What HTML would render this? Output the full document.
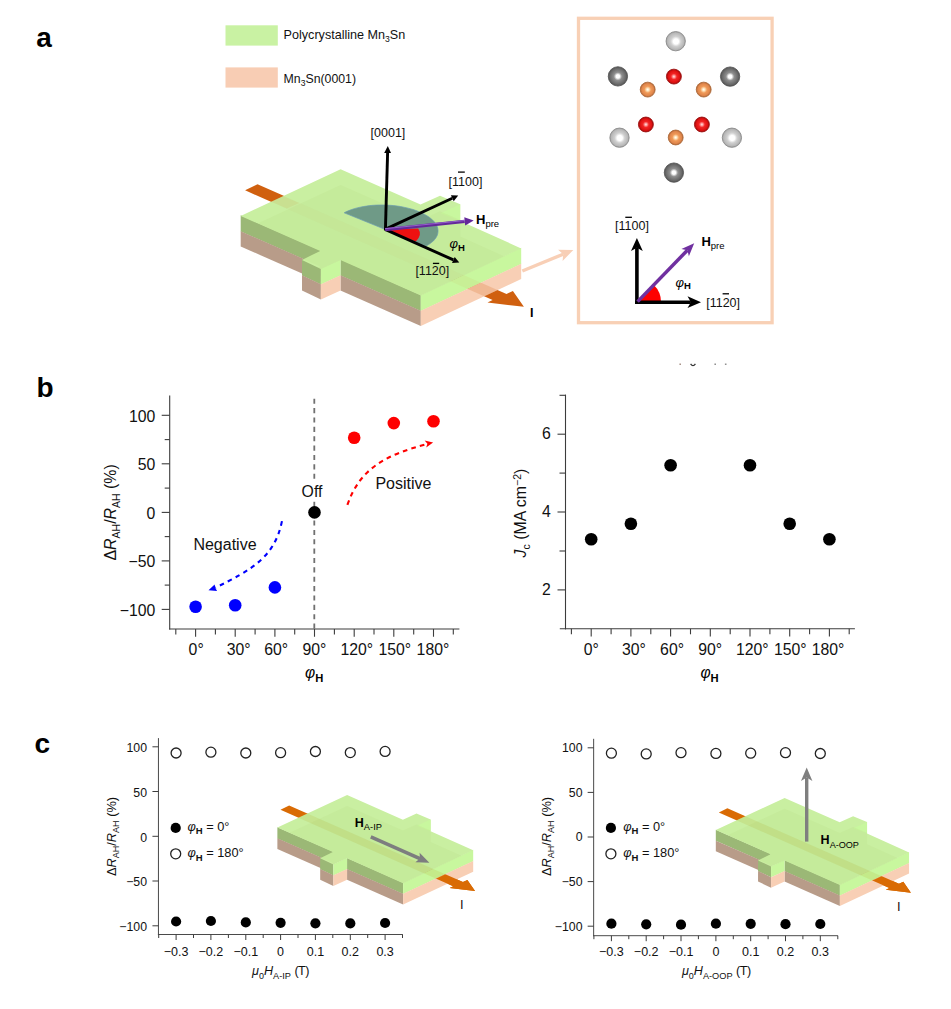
<!DOCTYPE html>
<html><head><meta charset="utf-8"><title>Figure</title>
<style>html,body{margin:0;padding:0;background:#fff;}body{width:951px;height:1009px;overflow:hidden;font-family:"Liberation Sans",sans-serif;}</style>
</head><body>
<svg width="951" height="1009" viewBox="0 0 951 1009" style="display:block;font-family:'Liberation Sans',sans-serif">
<defs>
<radialGradient id="gLG" cx="0.5" cy="0.5" r="0.5" fx="0.52" fy="0.52">
 <stop offset="0" stop-color="#ffffff"/><stop offset="0.27" stop-color="#ffffff"/><stop offset="0.52" stop-color="#d0d0d0"/><stop offset="0.85" stop-color="#b8b8b8"/><stop offset="1" stop-color="#a0a0a0"/>
</radialGradient>
<radialGradient id="gDG" cx="0.5" cy="0.5" r="0.5" fx="0.5" fy="0.5">
 <stop offset="0" stop-color="#ffffff"/><stop offset="0.18" stop-color="#ffffff"/><stop offset="0.42" stop-color="#8f8f8f"/><stop offset="0.85" stop-color="#666666"/><stop offset="1" stop-color="#4f4f4f"/>
</radialGradient>
<radialGradient id="gR" cx="0.5" cy="0.5" r="0.5">
 <stop offset="0" stop-color="#ffe4e4"/><stop offset="0.12" stop-color="#ffb0b0"/><stop offset="0.4" stop-color="#f22424"/><stop offset="0.8" stop-color="#dc1010"/><stop offset="1" stop-color="#900808"/>
</radialGradient>
<radialGradient id="gO" cx="0.5" cy="0.5" r="0.5">
 <stop offset="0" stop-color="#ffffff"/><stop offset="0.15" stop-color="#ffecc8"/><stop offset="0.45" stop-color="#f09a58"/><stop offset="0.8" stop-color="#e0864c"/><stop offset="1" stop-color="#a86030"/>
</radialGradient>
<linearGradient id="gP" x1="0" y1="0" x2="0" y2="1">
 <stop offset="0" stop-color="#9a5fd0"/><stop offset="0.45" stop-color="#7a3cb0"/><stop offset="1" stop-color="#4a1878"/>
</linearGradient>

<clipPath id="cTop"><polygon points="240.7,215.9 340.6,169.3 420.5,204.6 440.0,195.7 460.2,204.3 460.2,221.0 521.2,248.4 420.8,295.5 340.5,259.9 320.9,268.9 302.0,259.9 320.3,250.9"/></clipPath>
<clipPath id="cBP"><polygon points="420.8,311.1 521.2,264.0 521.2,279.0 420.8,326.1"/></clipPath>
<clipPath id="cLow"><polygon points="420.8,311.1 521.2,264.0 581.2,264.0 581.2,395.5 420.8,395.5"/></clipPath>
<clipPath id="cBG"><polygon points="420.8,295.5 521.2,248.4 521.2,264.0 420.8,311.1"/></clipPath>
</defs>
<rect width="951" height="1009" fill="#ffffff"/>
<text x="36.2" y="46.8" font-size="28" font-weight="bold" fill="#000">a</text>
<text x="36.6" y="396.8" font-size="28" font-weight="bold" fill="#000">b</text>
<text x="34.4" y="752.6" font-size="28" font-weight="bold" fill="#000">c</text>
<rect x="225.5" y="25.3" width="52.3" height="20.3" fill="#c9f2a3"/>
<rect x="225.5" y="67.4" width="52.3" height="20.2" fill="#f8cdb4"/>
<text x="283.6" y="38.9" font-size="12.6" fill="#111">Polycrystalline Mn<tspan font-size="8.6" dy="3">3</tspan><tspan dy="-3">Sn</tspan></text>
<text x="283.6" y="82.9" font-size="12.3" fill="#111">Mn<tspan font-size="8.6" dy="3">3</tspan><tspan dy="-3">Sn(0001)</tspan></text>
<g><polygon points="245.1,190.3 257.5,184.2 506.5,293.9 512.9,291.0 523.9,306.8 487.5,302.6 492.6,300.0" fill="#d0600f"/><polygon points="240.7,215.3 320.3,250.3 320.3,266.5 240.7,231.5" fill="#9bb876"/><polygon points="240.7,231.2 320.3,266.2 320.3,281.5 240.7,246.5" fill="#b89c89"/><polygon points="340.5,259.3 420.8,294.9 420.8,311.1 340.5,275.5" fill="#9bb876"/><polygon points="340.5,275.2 420.8,310.8 420.8,326.1 340.5,290.5" fill="#b89c89"/><polygon points="302.0,259.3 320.9,268.3 320.9,284.5 302.0,275.5" fill="#9bb876"/><polygon points="302.0,275.2 320.9,284.2 320.9,299.5 302.0,290.5" fill="#b89c89"/><polygon points="320.9,268.3 340.5,259.3 340.5,275.5 320.9,284.5" fill="#c8f79e"/><polygon points="320.9,284.2 340.5,275.2 340.5,290.5 320.9,299.5" fill="#f8cfb5"/><polygon points="420.8,294.9 521.2,247.8 521.2,264.0 420.8,311.1" fill="#c8f79e"/><polygon points="420.8,310.8 521.2,263.7 521.2,279.0 420.8,326.1" fill="#f8cfb5"/><polygon points="240.7,215.9 340.6,169.3 420.5,204.6 440.0,195.7 460.2,204.3 460.2,221.0 521.2,248.4 420.8,295.5 340.5,259.9 320.9,268.9 302.0,259.9 320.3,250.9" fill="#c9efa1"/><polygon points="440.6,213.2 460.2,204.3 460.2,221.0" fill="#c8f79e"/><g clip-path="url(#cTop)"><polygon points="240.7,231.5 340.6,184.9 420.5,220.2 440.0,211.3 460.2,219.9 460.2,236.6 521.2,264.0 420.8,311.1 340.5,275.5 320.9,284.5 302.0,275.5 320.3,266.5" fill="#b8d880" opacity="0.18"/><polygon points="245.1,190.3 257.5,184.2 506.5,293.9 492.6,300.0" fill="#d0600f" opacity="0.025"/><polygon points="271.0,201.4 283.0,196.0 299.1,202.9 286.8,208.6" fill="#d0600f" opacity="0.08"/></g><g clip-path="url(#cBP)"><polygon points="245.1,190.3 257.5,184.2 506.5,293.9 492.6,300.0" fill="#d0600f" opacity="0.2"/></g><g clip-path="url(#cBG)"><polygon points="245.1,190.3 257.5,184.2 506.5,293.9 492.6,300.0" fill="#d0600f" opacity="0.05"/></g></g>
<polygon points="426.1,246.1 428.2,244.8 430.1,243.6 431.8,242.2 433.4,240.9 434.7,239.4 435.8,238.0 436.7,236.4 437.4,234.9 437.8,233.3 438.0,231.7 438.0,230.2 437.8,228.6 437.4,227.0 436.7,225.4 435.8,223.8 434.7,222.3 433.3,220.8 431.8,219.3 430.1,217.9 428.2,216.5 426.0,215.2 423.8,213.9 421.3,212.7 418.7,211.6 415.9,210.5 413.1,209.5 410.1,208.7 407.0,207.9 403.8,207.2 400.5,206.5 397.1,206.0 393.7,205.6 390.3,205.3 386.8,205.1 383.4,205.0 379.9,205.0 376.5,205.1 373.1,205.3 369.7,205.6 366.4,206.1 363.2,206.6 360.1,207.2 357.1,207.9 354.2,208.7 351.5,209.6 348.9,210.6 346.4,211.6 344.2,212.8" fill="#6f9a87" stroke="#6c9cb0" stroke-width="0.7"/>
<path d="M385.1 229.4 L415.8 241.6 Q422.6 235.0 418.2 228.6 Z" fill="#ee1111"/>
<line x1="385.4" y1="230.4" x2="387.6" y2="153.0" stroke="#000" stroke-width="2.9"/><polygon points="387.8,146.0 391.0,153.1 387.6,153.0 384.2,152.9" fill="#000"/>
<line x1="385.1" y1="229.4" x2="452.3" y2="198.3" stroke="#000" stroke-width="2.9"/><polygon points="458.2,195.6 453.7,201.3 452.3,198.3 450.9,195.3" fill="#000"/>
<line x1="385.1" y1="229.4" x2="453.4" y2="259.9" stroke="#000" stroke-width="2.9"/><polygon points="459.3,262.6 452.0,263.0 453.4,259.9 454.7,256.9" fill="#000"/>
<line x1="385.1" y1="229.6" x2="464.7" y2="221.3" stroke="#64289a" stroke-width="3.3"/><polygon points="473.7,220.4 465.2,225.4 464.7,221.3 464.3,217.3" fill="#64289a"/>
<line x1="385.1" y1="228.70000000000002" x2="465.0" y2="220.5" stroke="#9460cc" stroke-width="1.0"/>
<text x="370.6" y="136.5" font-size="12.5" fill="#111">[0001]</text>
<text x="448.6" y="186.2" font-size="12.5" fill="#111">[1100]</text>
<line x1="458.0" y1="172.1" x2="464.8" y2="172.1" stroke="#000" stroke-width="1.3"/>
<text x="415.4" y="275.2" font-size="12.5" fill="#111">[1120]</text>
<line x1="432.9" y1="263.4" x2="439.2" y2="263.4" stroke="#000" stroke-width="1.3"/>
<text x="476.0" y="223.9" font-size="13" font-weight="bold" fill="#000">H<tspan font-size="9.5" font-weight="normal" dy="3.2">pre</tspan></text>
<text x="449.5" y="248.2" font-size="13" font-style="italic" fill="#000">φ<tspan font-size="9.5" font-style="normal" font-weight="bold" dy="2.5">H</tspan></text>
<text x="530.0" y="316.8" font-size="12.5" font-weight="bold" fill="#000">I</text>
<line x1="522.3" y1="271.0" x2="563.2" y2="254.2" stroke="#f8cfb6" stroke-width="3.4"/><polygon points="573.3,250.0 562.6,260.9 563.2,254.2 558.1,249.8" fill="#f8cfb6"/>
<rect x="578.5" y="18.3" width="193.6" height="304.4" fill="none" stroke="#f8d0b5" stroke-width="3.3"/>
<circle cx="675.7" cy="41.2" r="9.65" fill="url(#gLG)" stroke="#8a8a8a" stroke-width="0.9"/>
<circle cx="617.9" cy="76.4" r="9.65" fill="url(#gDG)" stroke="#585858" stroke-width="0.9"/>
<circle cx="730.1" cy="76.6" r="9.65" fill="url(#gDG)" stroke="#585858" stroke-width="0.9"/>
<circle cx="673.9" cy="76.6" r="7.45" fill="url(#gR)" stroke="#a01010" stroke-width="0.9"/>
<circle cx="647.7" cy="89.6" r="7.45" fill="url(#gO)" stroke="#b06c3c" stroke-width="0.9"/>
<circle cx="703.7" cy="89.6" r="7.45" fill="url(#gO)" stroke="#b06c3c" stroke-width="0.9"/>
<circle cx="645.9" cy="124.5" r="7.45" fill="url(#gR)" stroke="#a01010" stroke-width="0.9"/>
<circle cx="701.9" cy="124.5" r="7.45" fill="url(#gR)" stroke="#a01010" stroke-width="0.9"/>
<circle cx="675.7" cy="137.5" r="7.45" fill="url(#gO)" stroke="#b06c3c" stroke-width="0.9"/>
<circle cx="619.5" cy="137.7" r="9.65" fill="url(#gLG)" stroke="#8a8a8a" stroke-width="0.9"/>
<circle cx="731.9" cy="137.7" r="9.65" fill="url(#gLG)" stroke="#8a8a8a" stroke-width="0.9"/>
<circle cx="673.9" cy="172.6" r="9.65" fill="url(#gDG)" stroke="#585858" stroke-width="0.9"/>
<path d="M637.3 302 L661 302 A23.7 23.7 0 0 0 653.9 285.1 Z" fill="#fe0000"/>
<line x1="636.9" y1="304.0" x2="636.9" y2="247.7" stroke="#000" stroke-width="3.6"/><polygon points="636.9,237.9 642.8,250.9 636.9,247.7 631.0,250.9" fill="#000"/>
<line x1="635.1" y1="302.2" x2="690.9" y2="302.2" stroke="#000" stroke-width="3.6"/><polygon points="701.0,302.2 687.5,308.1 690.9,302.2 687.5,296.3" fill="#000"/>
<line x1="637.6" y1="301.6" x2="687.4" y2="250.2" stroke="#7030a0" stroke-width="3.5"/><polygon points="694.2,243.2 688.9,256.2 687.4,250.2 681.4,248.9" fill="#7030a0"/>
<text x="615.1" y="230.1" font-size="12.5" fill="#111">[1100]</text>
<line x1="625.3" y1="217.3" x2="631.9" y2="217.3" stroke="#000" stroke-width="1.3"/>
<text x="706.2" y="307.2" font-size="12.5" fill="#111">[1120]</text>
<line x1="722.6" y1="293.8" x2="729.0" y2="293.8" stroke="#000" stroke-width="1.3"/>
<text x="701.4" y="246.0" font-size="13" font-weight="bold" fill="#000">H<tspan font-size="9.5" font-weight="normal" dy="3.2">pre</tspan></text>
<text x="675.4" y="286.6" font-size="13" font-style="italic" fill="#000">φ<tspan font-size="9.5" font-style="normal" font-weight="bold" dy="2.5">H</tspan></text>
<rect x="679.4" y="363.6" width="1.6" height="1.2" fill="#7a5a4a" opacity="0.8"/>
<path d="M690.6 363.8 Q693 367.4 695.4 363.8" fill="none" stroke="#333" stroke-width="1.3"/>
<rect x="714.4" y="363.6" width="1.6" height="1.2" fill="#555" opacity="0.8"/>
<rect x="724.9" y="363.6" width="1.6" height="1.2" fill="#555" opacity="0.8"/>
<line x1="169.7" y1="395.6" x2="169.7" y2="629.5500000000001" stroke="#3c3c3c" stroke-width="1.1"/>
<line x1="169.1" y1="628.95" x2="459.4" y2="628.95" stroke="#3c3c3c" stroke-width="1.1"/>
<line x1="161.7" y1="415.3" x2="169.7" y2="415.3" stroke="#3c3c3c" stroke-width="1.1"/>
<text x="155.4" y="421.5" font-size="15.8" text-anchor="end" fill="#111">100</text>
<line x1="161.7" y1="463.8" x2="169.7" y2="463.8" stroke="#3c3c3c" stroke-width="1.1"/>
<text x="155.4" y="470.0" font-size="15.8" text-anchor="end" fill="#111">50</text>
<line x1="161.7" y1="512.4" x2="169.7" y2="512.4" stroke="#3c3c3c" stroke-width="1.1"/>
<text x="155.4" y="518.5" font-size="15.8" text-anchor="end" fill="#111">0</text>
<line x1="161.7" y1="560.9" x2="169.7" y2="560.9" stroke="#3c3c3c" stroke-width="1.1"/>
<text x="155.4" y="567.0" font-size="15.8" text-anchor="end" fill="#111">−50</text>
<line x1="161.7" y1="609.4" x2="169.7" y2="609.4" stroke="#3c3c3c" stroke-width="1.1"/>
<text x="155.4" y="615.5" font-size="15.8" text-anchor="end" fill="#111">−100</text>
<line x1="164.7" y1="439.6" x2="169.7" y2="439.6" stroke="#3c3c3c" stroke-width="1.1"/>
<line x1="164.7" y1="488.1" x2="169.7" y2="488.1" stroke="#3c3c3c" stroke-width="1.1"/>
<line x1="164.7" y1="536.6" x2="169.7" y2="536.6" stroke="#3c3c3c" stroke-width="1.1"/>
<line x1="164.7" y1="585.1" x2="169.7" y2="585.1" stroke="#3c3c3c" stroke-width="1.1"/>
<line x1="175.8" y1="628.95" x2="175.8" y2="634.45" stroke="#3c3c3c" stroke-width="1.1"/>
<line x1="195.6" y1="628.95" x2="195.6" y2="636.75" stroke="#3c3c3c" stroke-width="1.1"/>
<line x1="215.4" y1="628.95" x2="215.4" y2="634.45" stroke="#3c3c3c" stroke-width="1.1"/>
<line x1="235.2" y1="628.95" x2="235.2" y2="636.75" stroke="#3c3c3c" stroke-width="1.1"/>
<line x1="255.1" y1="628.95" x2="255.1" y2="634.45" stroke="#3c3c3c" stroke-width="1.1"/>
<line x1="274.9" y1="628.95" x2="274.9" y2="636.75" stroke="#3c3c3c" stroke-width="1.1"/>
<line x1="294.7" y1="628.95" x2="294.7" y2="634.45" stroke="#3c3c3c" stroke-width="1.1"/>
<line x1="314.5" y1="628.95" x2="314.5" y2="636.75" stroke="#3c3c3c" stroke-width="1.1"/>
<line x1="334.4" y1="628.95" x2="334.4" y2="634.45" stroke="#3c3c3c" stroke-width="1.1"/>
<line x1="354.2" y1="628.95" x2="354.2" y2="636.75" stroke="#3c3c3c" stroke-width="1.1"/>
<line x1="374.0" y1="628.95" x2="374.0" y2="634.45" stroke="#3c3c3c" stroke-width="1.1"/>
<line x1="393.8" y1="628.95" x2="393.8" y2="636.75" stroke="#3c3c3c" stroke-width="1.1"/>
<line x1="413.7" y1="628.95" x2="413.7" y2="634.45" stroke="#3c3c3c" stroke-width="1.1"/>
<line x1="433.5" y1="628.95" x2="433.5" y2="636.75" stroke="#3c3c3c" stroke-width="1.1"/>
<line x1="453.3" y1="628.95" x2="453.3" y2="634.45" stroke="#3c3c3c" stroke-width="1.1"/>
<text x="188.6" y="655.3" font-size="15.8" fill="#111">0°</text>
<text x="226.7" y="655.3" font-size="15.8" fill="#111">30°</text>
<text x="264.3" y="655.3" font-size="15.8" fill="#111">60°</text>
<text x="302.4" y="655.3" font-size="15.8" fill="#111">90°</text>
<text x="340.5" y="655.3" font-size="15.8" fill="#111">120°</text>
<text x="378.4" y="655.3" font-size="15.8" fill="#111">150°</text>
<text x="416.6" y="655.3" font-size="15.8" fill="#111">180°</text>
<line x1="314.3" y1="398.7" x2="314.3" y2="628.95" stroke="#707070" stroke-width="1.8" stroke-dasharray="5.1 4.27"/>
<rect x="299" y="480.5" width="28" height="20.6" fill="#fff"/>
<circle cx="195.6" cy="606.8" r="6.3" fill="#0000fe"/>
<circle cx="235.2" cy="605.2" r="6.3" fill="#0000fe"/>
<circle cx="274.9" cy="587.4" r="6.3" fill="#0000fe"/>
<circle cx="314.5" cy="512.4" r="6.3" fill="#000"/>
<circle cx="354.2" cy="437.8" r="6.3" fill="#fe0000"/>
<circle cx="393.8" cy="423.1" r="6.3" fill="#fe0000"/>
<circle cx="433.5" cy="421.3" r="6.3" fill="#fe0000"/>
<text x="301.6" y="497.4" font-size="15.8" fill="#111">Off</text>
<text x="375.4" y="488.5" font-size="16" fill="#111">Positive</text>
<text x="193.4" y="550.0" font-size="16" fill="#111">Negative</text>
<path d="M347.4 504.9 C360.5 466.8 387.9 454.6 427.8 443.7" fill="none" stroke="#fe0000" stroke-width="2.1" stroke-dasharray="4.7 4.2"/>
<polygon points="433.1,442.4 426.2,447.5 427.4,443.7 424.6,440.4" fill="#fe0000"/>
<path d="M281.95 521.15 C274.7 557.5 251.1 569.9 215.5 587.7" fill="none" stroke="#0000fe" stroke-width="2.1" stroke-dasharray="4.5 4.4"/>
<polygon points="208.5,590.2 214.6,584.4 215.4,587.9 217.1,590.9" fill="#0000fe"/>
<text transform="translate(116.3,512.4) rotate(-90)" text-anchor="middle" font-size="15.9" fill="#111">Δ<tspan font-style="italic">R</tspan><tspan font-size="10.5" dy="3.5">AH</tspan><tspan dy="-3.5">/</tspan><tspan font-style="italic">R</tspan><tspan font-size="10.5" dy="3.5">AH</tspan><tspan dy="-3.5"> (%)</tspan></text>
<text x="305.0" y="677.5" font-size="15.6" font-style="italic" fill="#000">φ<tspan font-size="11.2" font-style="normal" font-weight="bold" dy="4.2">H</tspan></text>
<line x1="565.5" y1="394.59999999999997" x2="565.5" y2="629.4" stroke="#3c3c3c" stroke-width="1.1"/>
<line x1="559.8" y1="628.8" x2="854.9" y2="628.8" stroke="#3c3c3c" stroke-width="1.1"/>
<line x1="557.5" y1="589.9" x2="565.5" y2="589.9" stroke="#3c3c3c" stroke-width="1.1"/>
<text x="550.8" y="595.1" font-size="15.8" text-anchor="end" fill="#111">2</text>
<line x1="557.5" y1="512.0" x2="565.5" y2="512.0" stroke="#3c3c3c" stroke-width="1.1"/>
<text x="550.8" y="517.2" font-size="15.8" text-anchor="end" fill="#111">4</text>
<line x1="557.5" y1="434.2" x2="565.5" y2="434.2" stroke="#3c3c3c" stroke-width="1.1"/>
<text x="550.8" y="439.4" font-size="15.8" text-anchor="end" fill="#111">6</text>
<line x1="559.5" y1="551.0" x2="565.5" y2="551.0" stroke="#3c3c3c" stroke-width="1.1"/>
<line x1="559.5" y1="473.1" x2="565.5" y2="473.1" stroke="#3c3c3c" stroke-width="1.1"/>
<line x1="559.5" y1="395.3" x2="565.5" y2="395.3" stroke="#3c3c3c" stroke-width="1.1"/>
<line x1="571.4" y1="628.8" x2="571.4" y2="634.3" stroke="#3c3c3c" stroke-width="1.1"/>
<line x1="591.2" y1="628.8" x2="591.2" y2="636.5999999999999" stroke="#3c3c3c" stroke-width="1.1"/>
<line x1="611.1" y1="628.8" x2="611.1" y2="634.3" stroke="#3c3c3c" stroke-width="1.1"/>
<line x1="630.9" y1="628.8" x2="630.9" y2="636.5999999999999" stroke="#3c3c3c" stroke-width="1.1"/>
<line x1="650.8" y1="628.8" x2="650.8" y2="634.3" stroke="#3c3c3c" stroke-width="1.1"/>
<line x1="670.6" y1="628.8" x2="670.6" y2="636.5999999999999" stroke="#3c3c3c" stroke-width="1.1"/>
<line x1="690.5" y1="628.8" x2="690.5" y2="634.3" stroke="#3c3c3c" stroke-width="1.1"/>
<line x1="710.3" y1="628.8" x2="710.3" y2="636.5999999999999" stroke="#3c3c3c" stroke-width="1.1"/>
<line x1="730.2" y1="628.8" x2="730.2" y2="634.3" stroke="#3c3c3c" stroke-width="1.1"/>
<line x1="750.0" y1="628.8" x2="750.0" y2="636.5999999999999" stroke="#3c3c3c" stroke-width="1.1"/>
<line x1="769.9" y1="628.8" x2="769.9" y2="634.3" stroke="#3c3c3c" stroke-width="1.1"/>
<line x1="789.7" y1="628.8" x2="789.7" y2="636.5999999999999" stroke="#3c3c3c" stroke-width="1.1"/>
<line x1="809.6" y1="628.8" x2="809.6" y2="634.3" stroke="#3c3c3c" stroke-width="1.1"/>
<line x1="829.4" y1="628.8" x2="829.4" y2="636.5999999999999" stroke="#3c3c3c" stroke-width="1.1"/>
<line x1="849.2" y1="628.8" x2="849.2" y2="634.3" stroke="#3c3c3c" stroke-width="1.1"/>
<text x="583.8" y="655.3" font-size="15.8" fill="#111">0°</text>
<text x="621.9" y="655.3" font-size="15.8" fill="#111">30°</text>
<text x="660.1" y="655.3" font-size="15.8" fill="#111">60°</text>
<text x="698.2" y="655.3" font-size="15.8" fill="#111">90°</text>
<text x="736.0" y="655.3" font-size="15.8" fill="#111">120°</text>
<text x="773.9" y="655.3" font-size="15.8" fill="#111">150°</text>
<text x="811.7" y="655.3" font-size="15.8" fill="#111">180°</text>
<circle cx="591.2" cy="539.3" r="6.3" fill="#000"/>
<circle cx="630.9" cy="523.7" r="6.3" fill="#000"/>
<circle cx="670.6" cy="465.3" r="6.3" fill="#000"/>
<circle cx="750.0" cy="465.3" r="6.3" fill="#000"/>
<circle cx="789.7" cy="523.7" r="6.3" fill="#000"/>
<circle cx="829.4" cy="539.3" r="6.3" fill="#000"/>
<text transform="translate(526.3,513.1) rotate(-90)" text-anchor="middle" font-size="15.9" fill="#111"><tspan font-style="italic">J</tspan><tspan font-size="10.5" dy="3.5">c</tspan><tspan dy="-3.5"> (MA cm</tspan><tspan font-size="10.5" dy="-5.5">−2</tspan><tspan dy="5.5">)</tspan></text>
<text x="700.4" y="677.5" font-size="15.6" font-style="italic" fill="#000">φ<tspan font-size="11.2" font-style="normal" font-weight="bold" dy="4.2">H</tspan></text>
<line x1="158.45" y1="738.1" x2="158.45" y2="935.0" stroke="#4a4a4a" stroke-width="1.0"/><line x1="157.95" y1="934.5" x2="402.8" y2="934.5" stroke="#4a4a4a" stroke-width="1.0"/><line x1="152.45" y1="746.8" x2="158.45" y2="746.8" stroke="#3c3c3c" stroke-width="1.0"/><text x="147.0" y="752.1" font-size="12.3" text-anchor="end" fill="#111">100</text><line x1="152.45" y1="791.5" x2="158.45" y2="791.5" stroke="#3c3c3c" stroke-width="1.0"/><text x="147.0" y="796.8" font-size="12.3" text-anchor="end" fill="#111">50</text><line x1="152.45" y1="836.3" x2="158.45" y2="836.3" stroke="#3c3c3c" stroke-width="1.0"/><text x="147.0" y="841.6" font-size="12.3" text-anchor="end" fill="#111">0</text><line x1="152.45" y1="881.0" x2="158.45" y2="881.0" stroke="#3c3c3c" stroke-width="1.0"/><text x="147.0" y="886.3" font-size="12.3" text-anchor="end" fill="#111">−50</text><line x1="152.45" y1="925.8" x2="158.45" y2="925.8" stroke="#3c3c3c" stroke-width="1.0"/><text x="147.0" y="931.1" font-size="12.3" text-anchor="end" fill="#111">−100</text><line x1="158.7" y1="934.5" x2="158.7" y2="938.0" stroke="#3c3c3c" stroke-width="1.0"/><line x1="176.1" y1="934.5" x2="176.1" y2="940.0" stroke="#3c3c3c" stroke-width="1.0"/><line x1="193.5" y1="934.5" x2="193.5" y2="938.0" stroke="#3c3c3c" stroke-width="1.0"/><line x1="210.9" y1="934.5" x2="210.9" y2="940.0" stroke="#3c3c3c" stroke-width="1.0"/><line x1="228.4" y1="934.5" x2="228.4" y2="938.0" stroke="#3c3c3c" stroke-width="1.0"/><line x1="245.8" y1="934.5" x2="245.8" y2="940.0" stroke="#3c3c3c" stroke-width="1.0"/><line x1="263.2" y1="934.5" x2="263.2" y2="938.0" stroke="#3c3c3c" stroke-width="1.0"/><line x1="280.6" y1="934.5" x2="280.6" y2="940.0" stroke="#3c3c3c" stroke-width="1.0"/><line x1="298.0" y1="934.5" x2="298.0" y2="938.0" stroke="#3c3c3c" stroke-width="1.0"/><line x1="315.4" y1="934.5" x2="315.4" y2="940.0" stroke="#3c3c3c" stroke-width="1.0"/><line x1="332.8" y1="934.5" x2="332.8" y2="938.0" stroke="#3c3c3c" stroke-width="1.0"/><line x1="350.3" y1="934.5" x2="350.3" y2="940.0" stroke="#3c3c3c" stroke-width="1.0"/><line x1="367.7" y1="934.5" x2="367.7" y2="938.0" stroke="#3c3c3c" stroke-width="1.0"/><line x1="385.1" y1="934.5" x2="385.1" y2="940.0" stroke="#3c3c3c" stroke-width="1.0"/><line x1="402.5" y1="934.5" x2="402.5" y2="938.0" stroke="#3c3c3c" stroke-width="1.0"/><text x="176.1" y="955.7" font-size="12.5" text-anchor="middle" fill="#111">−0.3</text><text x="210.9" y="955.7" font-size="12.5" text-anchor="middle" fill="#111">−0.2</text><text x="245.8" y="955.7" font-size="12.5" text-anchor="middle" fill="#111">−0.1</text><text x="280.6" y="955.7" font-size="12.5" text-anchor="middle" fill="#111">0</text><text x="315.4" y="955.7" font-size="12.5" text-anchor="middle" fill="#111">0.1</text><text x="350.3" y="955.7" font-size="12.5" text-anchor="middle" fill="#111">0.2</text><text x="385.1" y="955.7" font-size="12.5" text-anchor="middle" fill="#111">0.3</text><circle cx="176.1" cy="753.0" r="5.0" fill="#fff" stroke="#222" stroke-width="1.3"/><circle cx="210.9" cy="752.2" r="5.0" fill="#fff" stroke="#222" stroke-width="1.3"/><circle cx="245.8" cy="753.0" r="5.0" fill="#fff" stroke="#222" stroke-width="1.3"/><circle cx="280.6" cy="752.7" r="5.0" fill="#fff" stroke="#222" stroke-width="1.3"/><circle cx="315.4" cy="751.5" r="5.0" fill="#fff" stroke="#222" stroke-width="1.3"/><circle cx="350.3" cy="752.6" r="5.0" fill="#fff" stroke="#222" stroke-width="1.3"/><circle cx="385.1" cy="751.4" r="5.0" fill="#fff" stroke="#222" stroke-width="1.3"/><circle cx="176.1" cy="921.5" r="5.1" fill="#000"/><circle cx="210.9" cy="921.0" r="5.1" fill="#000"/><circle cx="245.8" cy="922.4" r="5.1" fill="#000"/><circle cx="280.6" cy="922.8" r="5.1" fill="#000"/><circle cx="315.4" cy="923.3" r="5.1" fill="#000"/><circle cx="350.3" cy="923.4" r="5.1" fill="#000"/><circle cx="385.1" cy="923.0" r="5.1" fill="#000"/><circle cx="175.7" cy="827.9" r="5.1" fill="#000"/><circle cx="175.7" cy="853.8" r="5.0" fill="#fff" stroke="#222" stroke-width="1.3"/><text x="187.4" y="831.0" font-size="12.8" fill="#111"><tspan font-style="italic">φ</tspan><tspan font-size="9.5" font-weight="bold" dy="3.3">H</tspan><tspan dy="-3.3"> = 0°</tspan></text><text x="187.4" y="857.2" font-size="12.8" fill="#111"><tspan font-style="italic">φ</tspan><tspan font-size="9.5" font-weight="bold" dy="3.3">H</tspan><tspan dy="-3.3"> = 180°</tspan></text><text transform="translate(115.6,836.5) rotate(-90)" text-anchor="middle" font-size="12.8" fill="#111">Δ<tspan font-style="italic">R</tspan><tspan font-size="9" dy="3">AH</tspan><tspan dy="-3">/</tspan><tspan font-style="italic">R</tspan><tspan font-size="9" dy="3">AH</tspan><tspan dy="-3"> (%)</tspan></text><text x="252.0" y="975.3" font-size="12.6" fill="#111"><tspan font-style="italic">μ</tspan><tspan font-size="9" dy="3.4">0</tspan><tspan font-style="italic" dy="-3.4">H</tspan><tspan font-size="9.2" dy="3.5">A-IP</tspan><tspan dy="-3.5"> </tspan><tspan letter-spacing="-0.5">(T)</tspan></text><g transform="translate(277.4,827.6) scale(0.698) translate(-240.7,-215.9)"><g><polygon points="245.1,190.3 257.5,184.2 506.5,293.9 512.9,291.0 523.9,306.8 487.5,302.6 492.6,300.0" fill="#d96b04"/><polygon points="240.7,215.3 320.3,250.3 320.3,266.5 240.7,231.5" fill="#9bb876"/><polygon points="240.7,231.2 320.3,266.2 320.3,281.5 240.7,246.5" fill="#b89c89"/><polygon points="340.5,259.3 420.8,294.9 420.8,311.1 340.5,275.5" fill="#9bb876"/><polygon points="340.5,275.2 420.8,310.8 420.8,326.1 340.5,290.5" fill="#b89c89"/><polygon points="302.0,259.3 320.9,268.3 320.9,284.5 302.0,275.5" fill="#9bb876"/><polygon points="302.0,275.2 320.9,284.2 320.9,299.5 302.0,290.5" fill="#b89c89"/><polygon points="320.9,268.3 340.5,259.3 340.5,275.5 320.9,284.5" fill="#c8f79e"/><polygon points="320.9,284.2 340.5,275.2 340.5,290.5 320.9,299.5" fill="#f8cfb5"/><polygon points="420.8,294.9 521.2,247.8 521.2,264.0 420.8,311.1" fill="#c8f79e"/><polygon points="420.8,310.8 521.2,263.7 521.2,279.0 420.8,326.1" fill="#f8cfb5"/><polygon points="240.7,215.9 340.6,169.3 420.5,204.6 440.0,195.7 460.2,204.3 460.2,221.0 521.2,248.4 420.8,295.5 340.5,259.9 320.9,268.9 302.0,259.9 320.3,250.9" fill="#c9efa1"/><polygon points="440.6,213.2 460.2,204.3 460.2,221.0" fill="#c8f79e"/><g clip-path="url(#cTop)"><polygon points="240.7,231.5 340.6,184.9 420.5,220.2 440.0,211.3 460.2,219.9 460.2,236.6 521.2,264.0 420.8,311.1 340.5,275.5 320.9,284.5 302.0,275.5 320.3,266.5" fill="#b8d880" opacity="0.18"/><polygon points="245.1,190.3 257.5,184.2 506.5,293.9 492.6,300.0" fill="#aa9600" opacity="0.13"/></g><g clip-path="url(#cBG)"><polygon points="245.1,190.3 257.5,184.2 506.5,293.9 492.6,300.0" fill="#aa9600" opacity="0.13"/></g><g clip-path="url(#cLow)"><polygon points="245.1,190.3 257.5,184.2 506.5,293.9 512.9,291.0 523.9,306.8 487.5,302.6 492.6,300.0" fill="#d96b04"/></g></g></g>
<line x1="370.8" y1="836.8" x2="419.9" y2="858.6" stroke="#7d7d7f" stroke-width="3.6"/><polygon points="429.4,862.8 415.4,862.3 419.9,858.6 419.6,852.7" fill="#7d7d7f"/>
<text x="354.8" y="826.9" font-size="12.5" font-weight="bold" fill="#000">H<tspan font-size="9.3" font-weight="normal" dy="3.4">A-IP</tspan></text>
<text x="460.0" y="908.5" font-size="12.8" fill="#1a0a0a">I</text>
<line x1="593.65" y1="738.8" x2="593.65" y2="936.2" stroke="#4a4a4a" stroke-width="1.0"/><line x1="593.15" y1="935.7" x2="837.9" y2="935.7" stroke="#4a4a4a" stroke-width="1.0"/><line x1="587.65" y1="747.8" x2="593.65" y2="747.8" stroke="#3c3c3c" stroke-width="1.0"/><text x="582.5" y="752.1" font-size="12.3" text-anchor="end" fill="#111">100</text><line x1="587.65" y1="792.4" x2="593.65" y2="792.4" stroke="#3c3c3c" stroke-width="1.0"/><text x="582.5" y="796.7" font-size="12.3" text-anchor="end" fill="#111">50</text><line x1="587.65" y1="837.0" x2="593.65" y2="837.0" stroke="#3c3c3c" stroke-width="1.0"/><text x="582.5" y="841.3" font-size="12.3" text-anchor="end" fill="#111">0</text><line x1="587.65" y1="881.6" x2="593.65" y2="881.6" stroke="#3c3c3c" stroke-width="1.0"/><text x="582.5" y="885.9" font-size="12.3" text-anchor="end" fill="#111">−50</text><line x1="587.65" y1="926.2" x2="593.65" y2="926.2" stroke="#3c3c3c" stroke-width="1.0"/><text x="582.5" y="930.5" font-size="12.3" text-anchor="end" fill="#111">−100</text><line x1="593.9" y1="935.7" x2="593.9" y2="939.2" stroke="#3c3c3c" stroke-width="1.0"/><line x1="611.4" y1="935.7" x2="611.4" y2="941.2" stroke="#3c3c3c" stroke-width="1.0"/><line x1="628.8" y1="935.7" x2="628.8" y2="939.2" stroke="#3c3c3c" stroke-width="1.0"/><line x1="646.2" y1="935.7" x2="646.2" y2="941.2" stroke="#3c3c3c" stroke-width="1.0"/><line x1="663.6" y1="935.7" x2="663.6" y2="939.2" stroke="#3c3c3c" stroke-width="1.0"/><line x1="681.0" y1="935.7" x2="681.0" y2="941.2" stroke="#3c3c3c" stroke-width="1.0"/><line x1="698.4" y1="935.7" x2="698.4" y2="939.2" stroke="#3c3c3c" stroke-width="1.0"/><line x1="715.9" y1="935.7" x2="715.9" y2="941.2" stroke="#3c3c3c" stroke-width="1.0"/><line x1="733.3" y1="935.7" x2="733.3" y2="939.2" stroke="#3c3c3c" stroke-width="1.0"/><line x1="750.7" y1="935.7" x2="750.7" y2="941.2" stroke="#3c3c3c" stroke-width="1.0"/><line x1="768.1" y1="935.7" x2="768.1" y2="939.2" stroke="#3c3c3c" stroke-width="1.0"/><line x1="785.5" y1="935.7" x2="785.5" y2="941.2" stroke="#3c3c3c" stroke-width="1.0"/><line x1="802.9" y1="935.7" x2="802.9" y2="939.2" stroke="#3c3c3c" stroke-width="1.0"/><line x1="820.3" y1="935.7" x2="820.3" y2="941.2" stroke="#3c3c3c" stroke-width="1.0"/><line x1="837.8" y1="935.7" x2="837.8" y2="939.2" stroke="#3c3c3c" stroke-width="1.0"/><text x="611.4" y="955.7" font-size="12.5" text-anchor="middle" fill="#111">−0.3</text><text x="646.2" y="955.7" font-size="12.5" text-anchor="middle" fill="#111">−0.2</text><text x="681.0" y="955.7" font-size="12.5" text-anchor="middle" fill="#111">−0.1</text><text x="715.9" y="955.7" font-size="12.5" text-anchor="middle" fill="#111">0</text><text x="750.7" y="955.7" font-size="12.5" text-anchor="middle" fill="#111">0.1</text><text x="785.5" y="955.7" font-size="12.5" text-anchor="middle" fill="#111">0.2</text><text x="820.3" y="955.7" font-size="12.5" text-anchor="middle" fill="#111">0.3</text><circle cx="611.4" cy="753.2" r="5.0" fill="#fff" stroke="#222" stroke-width="1.3"/><circle cx="646.2" cy="753.9" r="5.0" fill="#fff" stroke="#222" stroke-width="1.3"/><circle cx="681.0" cy="752.7" r="5.0" fill="#fff" stroke="#222" stroke-width="1.3"/><circle cx="715.9" cy="753.4" r="5.0" fill="#fff" stroke="#222" stroke-width="1.3"/><circle cx="750.7" cy="753.2" r="5.0" fill="#fff" stroke="#222" stroke-width="1.3"/><circle cx="785.5" cy="752.7" r="5.0" fill="#fff" stroke="#222" stroke-width="1.3"/><circle cx="820.3" cy="753.5" r="5.0" fill="#fff" stroke="#222" stroke-width="1.3"/><circle cx="611.4" cy="923.7" r="5.1" fill="#000"/><circle cx="646.2" cy="924.3" r="5.1" fill="#000"/><circle cx="681.0" cy="924.7" r="5.1" fill="#000"/><circle cx="715.9" cy="923.7" r="5.1" fill="#000"/><circle cx="750.7" cy="923.8" r="5.1" fill="#000"/><circle cx="785.5" cy="924.2" r="5.1" fill="#000"/><circle cx="820.3" cy="924.0" r="5.1" fill="#000"/><circle cx="610.9" cy="827.9" r="5.1" fill="#000"/><circle cx="610.9" cy="853.8" r="5.0" fill="#fff" stroke="#222" stroke-width="1.3"/><text x="623.2" y="831.0" font-size="12.8" fill="#111"><tspan font-style="italic">φ</tspan><tspan font-size="9.5" font-weight="bold" dy="3.3">H</tspan><tspan dy="-3.3"> = 0°</tspan></text><text x="623.2" y="857.2" font-size="12.8" fill="#111"><tspan font-style="italic">φ</tspan><tspan font-size="9.5" font-weight="bold" dy="3.3">H</tspan><tspan dy="-3.3"> = 180°</tspan></text><text transform="translate(551.0,836.5) rotate(-90)" text-anchor="middle" font-size="12.8" fill="#111">Δ<tspan font-style="italic">R</tspan><tspan font-size="9" dy="3">AH</tspan><tspan dy="-3">/</tspan><tspan font-style="italic">R</tspan><tspan font-size="9" dy="3">AH</tspan><tspan dy="-3"> (%)</tspan></text><text x="681.9" y="975.3" font-size="12.6" fill="#111"><tspan font-style="italic">μ</tspan><tspan font-size="9" dy="3.4">0</tspan><tspan font-style="italic" dy="-3.4">H</tspan><tspan font-size="9.2" dy="3.5">A-OOP</tspan><tspan dy="-3.5"> </tspan><tspan letter-spacing="-0.5">(T)</tspan></text><g transform="translate(715.8,830.1) scale(0.689) translate(-240.7,-215.9)"><g><polygon points="245.1,190.3 257.5,184.2 506.5,293.9 512.9,291.0 523.9,306.8 487.5,302.6 492.6,300.0" fill="#d96b04"/><polygon points="240.7,215.3 320.3,250.3 320.3,266.5 240.7,231.5" fill="#9bb876"/><polygon points="240.7,231.2 320.3,266.2 320.3,281.5 240.7,246.5" fill="#b89c89"/><polygon points="340.5,259.3 420.8,294.9 420.8,311.1 340.5,275.5" fill="#9bb876"/><polygon points="340.5,275.2 420.8,310.8 420.8,326.1 340.5,290.5" fill="#b89c89"/><polygon points="302.0,259.3 320.9,268.3 320.9,284.5 302.0,275.5" fill="#9bb876"/><polygon points="302.0,275.2 320.9,284.2 320.9,299.5 302.0,290.5" fill="#b89c89"/><polygon points="320.9,268.3 340.5,259.3 340.5,275.5 320.9,284.5" fill="#c8f79e"/><polygon points="320.9,284.2 340.5,275.2 340.5,290.5 320.9,299.5" fill="#f8cfb5"/><polygon points="420.8,294.9 521.2,247.8 521.2,264.0 420.8,311.1" fill="#c8f79e"/><polygon points="420.8,310.8 521.2,263.7 521.2,279.0 420.8,326.1" fill="#f8cfb5"/><polygon points="240.7,215.9 340.6,169.3 420.5,204.6 440.0,195.7 460.2,204.3 460.2,221.0 521.2,248.4 420.8,295.5 340.5,259.9 320.9,268.9 302.0,259.9 320.3,250.9" fill="#c9efa1"/><polygon points="440.6,213.2 460.2,204.3 460.2,221.0" fill="#c8f79e"/><g clip-path="url(#cTop)"><polygon points="240.7,231.5 340.6,184.9 420.5,220.2 440.0,211.3 460.2,219.9 460.2,236.6 521.2,264.0 420.8,311.1 340.5,275.5 320.9,284.5 302.0,275.5 320.3,266.5" fill="#b8d880" opacity="0.18"/><polygon points="245.1,190.3 257.5,184.2 506.5,293.9 492.6,300.0" fill="#aa9600" opacity="0.13"/></g><g clip-path="url(#cBG)"><polygon points="245.1,190.3 257.5,184.2 506.5,293.9 492.6,300.0" fill="#aa9600" opacity="0.13"/></g><g clip-path="url(#cLow)"><polygon points="245.1,190.3 257.5,184.2 506.5,293.9 512.9,291.0 523.9,306.8 487.5,302.6 492.6,300.0" fill="#d96b04"/></g></g></g>
<line x1="806.7" y1="841.6" x2="806.7" y2="777.5" stroke="#7f7f7f" stroke-width="3.4"/><polygon points="806.7,767.4 812.4,780.9 806.7,777.5 801.0,780.9" fill="#7f7f7f"/>
<text x="820.6" y="844.4" font-size="12.5" font-weight="bold" fill="#000">H<tspan font-size="9.1" font-weight="normal" dy="3.7">A-OOP</tspan></text>
<text x="897.0" y="910.6" font-size="12.8" fill="#1a0a0a">I</text>
</svg>
</body></html>
